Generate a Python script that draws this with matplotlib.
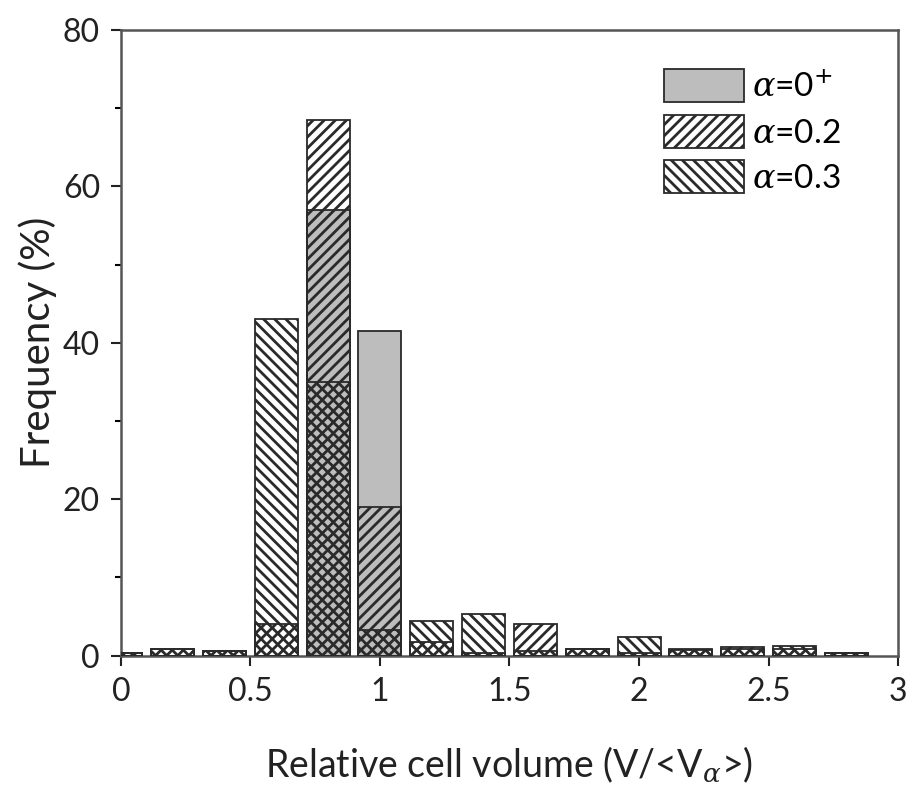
import matplotlib as mpl
mpl.use("Agg")
import matplotlib.pyplot as plt
import numpy as np

# bin centres of the relative cell volume histogram
centres = [0.0, 0.2, 0.4, 0.6, 0.8, 1.0, 1.2, 1.4, 1.6, 1.8, 2.0, 2.2, 2.4, 2.6, 2.8]
freq_a0 = [0, 0, 0, 0, 57.0, 41.5, 0, 0, 0, 0, 0, 0, 0, 0, 0]
freq_a02 = [0.4, 0.9, 0.6, 4.0, 68.5, 19.0, 1.8, 0.3, 4.0, 0.8, 0.3, 0.8, 1.1, 0.8, 0.4]
freq_a03 = [0.4, 0.9, 0.6, 43.0, 35.0, 3.3, 4.4, 5.3, 0.6, 0.8, 2.4, 0.7, 0.8, 1.3, 0.4]

barWidth = 0.166

mpl.rcParams['font.family'] = ['Lato', 'DejaVu Sans']
mpl.rcParams['hatch.linewidth'] = 2.0
mpl.rcParams['mathtext.fontset'] = 'dejavuserif'

fig = plt.figure(figsize=(9.09, 7.9), dpi=100)
ax = fig.add_axes([0.133, 0.170, 0.855, 0.792])

edge = '#2a2a2a'
ax.bar(centres, freq_a0, width=barWidth, color='#bdbdbd', edgecolor=edge,
       linewidth=1.3, label=r'$\alpha$=0$^{+}$', zorder=2)
ax.bar(centres, freq_a02, width=barWidth, facecolor='none', edgecolor=edge,
       hatch='///', linewidth=1.3, label=r'$\alpha$=0.2', zorder=3)
ax.bar(centres, freq_a03, width=barWidth, facecolor='none', edgecolor=edge,
       hatch='\\\\\\', linewidth=1.3, label=r'$\alpha$=0.3', zorder=4)

ax.set_xlim(0, 3)
ax.set_ylim(0, 80)
ax.set_xticks([0, 0.5, 1, 1.5, 2, 2.5, 3])
ax.set_xticklabels(['0', '0.5', '1', '1.5', '2', '2.5', '3'])
ax.set_yticks([0, 20, 40, 60, 80])
ax.set_yticks([10, 30, 50, 70], minor=True)
ax.tick_params(axis='both', which='major', direction='out', length=7, width=1.5,
               labelsize=23, colors='#222222', pad=8)
ax.tick_params(axis='y', which='minor', direction='out', length=4, width=1.5)
ax.tick_params(right=False, top=False)
for s in ax.spines.values():
    s.set_linewidth(1.8)
    s.set_color('#555555')

ax.set_xlabel(r'Relative cell volume (V/<V$_\alpha$>)', fontsize=27, labelpad=28,
              color='#222222')
ax.set_ylabel('Frequency (%)', fontsize=29, labelpad=4, color='#222222')

ax.legend(loc='upper right', frameon=False, fontsize=24, handlelength=2.4,
          handleheight=1.15, labelspacing=0.35, handletextpad=0.25,
          bbox_to_anchor=(0.965, 0.985))

plt.savefig('out.png', dpi=100)
